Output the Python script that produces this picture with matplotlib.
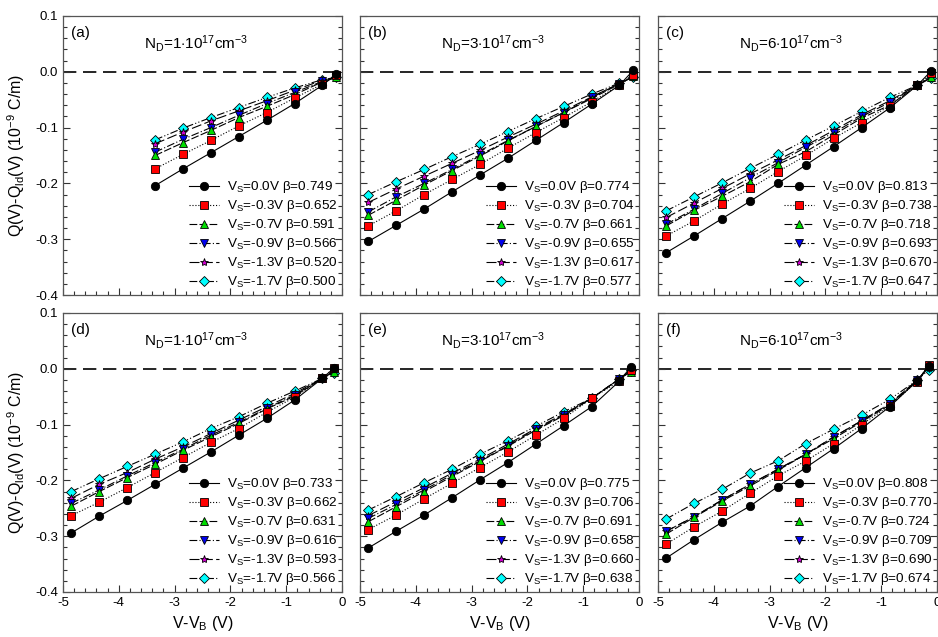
import matplotlib
matplotlib.use('Agg')
import matplotlib.pyplot as plt
from matplotlib.ticker import MultipleLocator, NullFormatter

plt.rcParams['font.family'] = ['Liberation Sans', 'DejaVu Sans']
plt.rcParams['mathtext.fontset'] = 'custom'
plt.rcParams['mathtext.rm'] = 'Liberation Sans'
plt.rcParams['mathtext.it'] = 'Liberation Sans:italic'
plt.rcParams['axes.unicode_minus'] = False

# x positions (V - V_B)
x_top_a = [-3.35, -2.85, -2.35, -1.85, -1.35, -0.85, -0.35, -0.1]
x_top = [-4.85, -4.35, -3.85, -3.35, -2.85, -2.35, -1.85, -1.35, -0.85, -0.35, -0.1]
x_bot = [-4.85, -4.35, -3.85, -3.35, -2.85, -2.35, -1.85, -1.35, -0.85, -0.35, -0.15]

vs_labels = ['0.0', '-0.3', '-0.7', '-0.9', '-1.3', '-1.7']

# panel (a)  N_D = 1e17
a_y = [
    [-0.204, -0.174, -0.145, -0.116, -0.087, -0.057, -0.024, -0.004],
    [-0.174, -0.148, -0.123, -0.097, -0.073, -0.047, -0.022, -0.006],
    [-0.150, -0.127, -0.105, -0.082, -0.062, -0.041, -0.018, -0.010],
    [-0.144, -0.121, -0.100, -0.078, -0.057, -0.037, -0.017, -0.010],
    [-0.129, -0.108, -0.088, -0.070, -0.052, -0.033, -0.015, -0.010],
    [-0.122, -0.101, -0.082, -0.064, -0.046, -0.029, -0.014, -0.010],
]
a_beta = ['0.749', '0.652', '0.591', '0.566', '0.520', '0.500']

# panel (b)  N_D = 3e17
b_y = [
    [-0.304, -0.275, -0.246, -0.215, -0.185, -0.155, -0.123, -0.091, -0.058, -0.024, 0.003],
    [-0.276, -0.249, -0.220, -0.193, -0.166, -0.137, -0.109, -0.082, -0.054, -0.024, -0.006],
    [-0.257, -0.230, -0.203, -0.177, -0.151, -0.124, -0.098, -0.073, -0.048, -0.022, -0.008],
    [-0.251, -0.224, -0.200, -0.175, -0.149, -0.123, -0.098, -0.073, -0.046, -0.021, -0.008],
    [-0.234, -0.210, -0.187, -0.164, -0.141, -0.117, -0.094, -0.070, -0.045, -0.021, -0.009],
    [-0.220, -0.197, -0.175, -0.152, -0.130, -0.107, -0.084, -0.062, -0.040, -0.020, -0.009],
]
b_beta = ['0.774', '0.704', '0.661', '0.655', '0.617', '0.577']

# panel (c)  N_D = 6e17
c_y = [
    [-0.324, -0.294, -0.263, -0.232, -0.200, -0.167, -0.134, -0.100, -0.065, -0.024, 0.002],
    [-0.294, -0.267, -0.237, -0.209, -0.179, -0.150, -0.119, -0.091, -0.061, -0.024, -0.003],
    [-0.276, -0.248, -0.223, -0.197, -0.166, -0.143, -0.113, -0.083, -0.060, -0.024, -0.009],
    [-0.273, -0.246, -0.218, -0.190, -0.163, -0.135, -0.109, -0.080, -0.055, -0.024, -0.009],
    [-0.261, -0.235, -0.209, -0.183, -0.158, -0.132, -0.105, -0.077, -0.052, -0.024, -0.010],
    [-0.249, -0.224, -0.199, -0.173, -0.148, -0.122, -0.097, -0.071, -0.046, -0.024, -0.011],
]
c_beta = ['0.813', '0.738', '0.718', '0.693', '0.670', '0.647']

# panel (d)  N_D = 1e17
d_y = [
    [-0.294, -0.264, -0.236, -0.207, -0.178, -0.149, -0.119, -0.089, -0.056, -0.017, 0.001],
    [-0.263, -0.239, -0.213, -0.186, -0.159, -0.132, -0.107, -0.078, -0.051, -0.017, 0.001],
    [-0.246, -0.220, -0.195, -0.171, -0.146, -0.122, -0.098, -0.072, -0.049, -0.017, -0.005],
    [-0.241, -0.217, -0.192, -0.168, -0.144, -0.119, -0.096, -0.071, -0.047, -0.017, -0.005],
    [-0.232, -0.207, -0.186, -0.162, -0.140, -0.116, -0.092, -0.068, -0.044, -0.017, -0.005],
    [-0.220, -0.197, -0.175, -0.153, -0.131, -0.107, -0.086, -0.062, -0.040, -0.017, -0.007],
]
d_beta = ['0.733', '0.662', '0.631', '0.616', '0.593', '0.566']

# panel (e)  N_D = 3e17
e_y = [
    [-0.321, -0.291, -0.262, -0.231, -0.199, -0.168, -0.135, -0.102, -0.068, -0.022, 0.003],
    [-0.288, -0.262, -0.233, -0.205, -0.177, -0.149, -0.119, -0.089, -0.053, -0.022, -0.002],
    [-0.274, -0.247, -0.220, -0.193, -0.166, -0.139, -0.110, -0.084, -0.053, -0.018, -0.005],
    [-0.268, -0.243, -0.217, -0.190, -0.165, -0.138, -0.108, -0.083, -0.053, -0.018, -0.005],
    [-0.263, -0.238, -0.213, -0.187, -0.162, -0.135, -0.107, -0.081, -0.053, -0.018, -0.002],
    [-0.253, -0.229, -0.204, -0.180, -0.153, -0.129, -0.103, -0.077, -0.053, -0.018, -0.002],
]
e_beta = ['0.775', '0.706', '0.691', '0.658', '0.660', '0.638']

# panel (f)  N_D = 6e17
f_y = [
    [-0.339, -0.306, -0.275, -0.246, -0.211, -0.177, -0.143, -0.107, -0.068, -0.021, 0.005],
    [-0.314, -0.283, -0.255, -0.223, -0.192, -0.165, -0.134, -0.100, -0.066, -0.023, 0.007],
    [-0.296, -0.266, -0.237, -0.210, -0.182, -0.153, -0.125, -0.095, -0.065, -0.021, 0.005],
    [-0.291, -0.265, -0.235, -0.207, -0.180, -0.153, -0.122, -0.093, -0.063, -0.020, 0.001],
    [-0.291, -0.265, -0.235, -0.207, -0.180, -0.153, -0.122, -0.093, -0.063, -0.020, 0.001],
    [-0.269, -0.241, -0.216, -0.187, -0.165, -0.134, -0.108, -0.083, -0.055, -0.020, -0.002],
]
f_beta = ['0.808', '0.770', '0.724', '0.709', '0.690', '0.674']

markers = ['o', 's', '^', 'v', '*', 'D']
colors = ['black', 'red', '#00dd00', '#0000ee', '#cc00cc', '#00ffff']
msizes = [6, 6, 6, 6, 6, 5.5]
styles = ['-', ':', (0, (7, 2)), (0, (7, 2, 1, 2)), (0, (9, 3)), (0, (7, 2, 1, 2, 1, 2))]

panels = [
    ('(a)', '1', x_top_a, a_y, a_beta),
    ('(b)', '3', x_top, b_y, b_beta),
    ('(c)', '6', x_top, c_y, c_beta),
    ('(d)', '1', x_bot, d_y, d_beta),
    ('(e)', '3', x_bot, e_y, e_beta),
    ('(f)', '6', x_bot, f_y, f_beta),
]

W, H = 938, 637
lefts = [63, 360, 658]
tops = [16, 313]
pw, ph = 279, 279

fig = plt.figure(figsize=(W / 100, H / 100), dpi=100)

for i, (tag, nd, xs, ys, betas) in enumerate(panels):
    row, col = divmod(i, 3)
    l, t = lefts[col], tops[row]
    ax = fig.add_axes([l / W, 1 - (t + ph) / H, pw / W, ph / H])
    ax.axhline(0, color='black', lw=1.2, ls=(0, (8, 4)), zorder=1)
    for k in range(6):
        ax.plot(xs, ys[k], color='black', lw=0.8, ls=styles[k],
                marker=markers[k], ms=msizes[k], mfc=colors[k], mec='black', mew=0.6,
                label='V$_\\mathrm{S}$=%sV β=%s' % (vs_labels[k], betas[k]), zorder=3 + (5 - k) * 0.1)
    ax.set_xlim(-5, 0)
    ax.set_ylim(-0.4, 0.1)
    ax.xaxis.set_major_locator(MultipleLocator(1))
    ax.xaxis.set_minor_locator(MultipleLocator(0.2))
    ax.yaxis.set_major_locator(MultipleLocator(0.1))
    ax.yaxis.set_minor_locator(MultipleLocator(0.02))
    ax.tick_params(which='both', direction='in', right=True, top=False, colors='#333333',
                   labelcolor='black', labelsize=9.5, width=0.8)
    ax.tick_params(which='major', length=5)
    ax.tick_params(which='minor', length=3)
    for s in ax.spines.values():
        s.set_color('#555555')
        s.set_linewidth(0.9)
    ax.yaxis.set_major_formatter(matplotlib.ticker.FormatStrFormatter('%.1f'))
    if col != 0:
        ax.yaxis.set_major_formatter(NullFormatter())
    else:
        ax.set_ylabel('Q(V)-Q$_\\mathrm{ld}$(V) (10$^{-9}$ C/m)', fontsize=11.5, labelpad=6)
    if row == 0:
        ax.xaxis.set_major_formatter(NullFormatter())
    else:
        ax.set_xlabel('V-V$_\\mathrm{B}$ (V)', fontsize=11.5, labelpad=4)
    ax.text(0.03, 0.94, tag, transform=ax.transAxes, fontsize=11, va='center', ha='left')
    ax.text(0.29, 0.90, 'N$_\\mathrm{D}$=%s$\\cdot$10$^{17}$cm$^{-3}$' % nd,
            transform=ax.transAxes, fontsize=11, va='center', ha='left')
    ax.legend(loc='lower right', frameon=False, fontsize=9.7, handlelength=2.2,
              handletextpad=0.6, labelspacing=0.22, borderaxespad=0.1, borderpad=0.25)

fig.savefig('out.png', dpi=100)
